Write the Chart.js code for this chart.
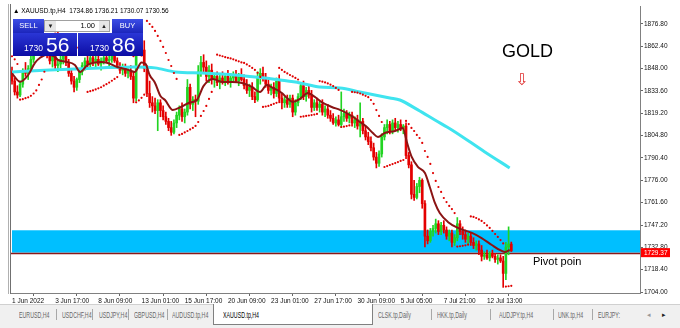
<!DOCTYPE html>
<html><head><meta charset="utf-8">
<script src="https://cdn.jsdelivr.net/npm/chart.js@4.4.1/dist/chart.umd.min.js"></script>
<style>
html,body{margin:0;padding:0;background:#fff;}
#wrap{position:relative;width:680px;height:328px;overflow:hidden;font-family:'Liberation Sans',Arial,sans-serif;}
canvas{position:absolute;left:0;top:0;}
.ov{position:absolute;white-space:nowrap;}
.btn{background:linear-gradient(#3c4ee6,#1c26bc);color:#fff;font-size:7.5px;text-align:center;line-height:14px;height:14px;top:19px;}
.big{background:linear-gradient(#2a36d6,#0c0ca4);top:33px;height:23px;}
.sm{position:absolute;color:#fff;font-size:8.5px;line-height:8.5px;top:11px;}
.lg{position:absolute;color:#fff;font-size:21px;line-height:21px;top:1px;}
.tab{position:absolute;top:310px;font-size:8.5px;line-height:10px;color:#666;transform:scaleX(0.62);transform-origin:0 0;}
.sep{position:absolute;top:309px;width:1px;height:11px;background:#a8a8a8;}
</style></head><body>
<div id="wrap">
<canvas id="c" width="680" height="328"></canvas>
<div class="ov" style="left:8px;top:4px;width:1px;height:290px;background:#b0b0b0"></div>
<div class="ov" style="left:10px;top:4px;width:1px;height:290px;background:#707070"></div>
<div class="ov" style="left:13px;top:7px;font-size:6.5px;color:#000">▲ XAUUSD.tp,H4&nbsp; 1734.86 1736.21 1730.07 1730.56</div>
<div class="ov btn" style="left:13px;width:31px">SELL</div>
<div class="ov" style="left:44px;top:20px;width:66px;height:12px;background:#fff;border:1px solid #a0a0a0;box-sizing:border-box"></div>
<div class="ov" style="left:45px;top:21px;width:11px;height:10px;background:#e6e6e6;font-size:6px;line-height:10px;text-align:center;color:#222">▼</div>
<div class="ov" style="left:78px;top:21px;width:17px;font-size:7.5px;line-height:10px;text-align:right;color:#000">1.00</div>
<div class="ov" style="left:99px;top:21px;width:10px;height:10px;background:#e6e6e6;font-size:6px;line-height:10px;text-align:center;color:#222">▲</div>
<div class="ov btn" style="left:112px;width:31px">BUY</div>
<div class="ov big" style="left:13px;width:64px"><span class="sm" style="left:11px">1730</span><span class="lg" style="left:33px">56</span></div>
<div class="ov big" style="left:78px;width:65px"><span class="sm" style="left:12px">1730</span><span class="lg" style="left:34px">86</span></div>
<div class="ov" style="left:502px;top:41px;font-size:18px;color:#000">GOLD</div>
<div class="ov" style="left:515px;top:70px;font-size:16px;color:#e03030;font-family:'DejaVu Sans'">⇩</div>
<div class="ov" style="left:533px;top:255px;font-size:11px;color:#000">Pivot poin</div>
<div class="ov" style="left:0;top:304px;width:680px;height:24px;background:#f0f0f0;border-top:1px solid #d0d0d0"></div>
<div class="ov" style="left:213px;top:304px;width:158px;height:20px;background:#fff;border:1px solid #808080;border-top:none"></div>
<span class="tab" style="left:19px">EURUSD,H4</span><span class="sep" style="left:56px"></span>
<span class="tab" style="left:62px">USDCHF,H4</span><span class="sep" style="left:92px"></span>
<span class="tab" style="left:99px">USDJPY,H4</span><span class="sep" style="left:128px"></span>
<span class="tab" style="left:134px">GBPUSD,H4</span><span class="sep" style="left:167px"></span>
<span class="tab" style="left:172px">AUDUSD.tp,H4</span>
<span class="tab" style="left:223px;color:#000">XAUUSD.tp,H4</span>
<span class="tab" style="left:378px">CLSK.tp,Daily</span><span class="sep" style="left:431px"></span>
<span class="tab" style="left:437px">HKK.tp,Daily</span><span class="sep" style="left:490px"></span>
<span class="tab" style="left:499px">AUDJPY.tp,H4</span><span class="sep" style="left:553px"></span>
<span class="tab" style="left:558px">UNK.tp,H4</span><span class="sep" style="left:592px"></span>
<span class="tab" style="left:598px">EURJPY: </span>
<span class="tab" style="left:647px;color:#999;transform:none;font-size:7px">◂</span><span class="tab" style="left:662px;color:#222;transform:none;font-size:7px">▸</span>
</div>
<script>
// ---- data ----
const xTickBars = [0,16,32,48,64,80,96,112,128,144,160,176];
const xTickLabels = ['1 Jun 2022','3 Jun 17:00','8 Jun 09:00','13 Jun 01:00','15 Jun 17:00','20 Jun 09:00','23 Jun 01:00','27 Jun 17:00','30 Jun 09:00','5 Jul 05:00','7 Jul 21:00','12 Jul 13:00'];
const yTickValues = [1704.00,1718.40,1732.80,1747.20,1761.60,1776.00,1790.40,1804.80,1819.20,1833.60,1848.00,1862.40,1876.80];

const opens = [1846,1840,1833,1831,1838,1846,1845,1848,1854,1860,1865,1868,1866,1862,1857,1853,1856,1850,1851,1854,
1856,1852,1845,1840,1836,1841,1846,1850,1853,1851,1855,1852,1854,1851,1853,1855,1853,1854,1856,1853,
1849,1847,1849,1845,1847,1843,1829,1865,1872,1860,1848,1832,1826,1824,1821,1826,1821,1817,1814,1810,
1807,1813,1818,1822,1817,1820,1836,1825,1828,1827,1846,1852,1849,1843,1847,1841,1843,1839,1842,1840,
1843,1839,1842,1844,1840,1843,1841,1837,1834,1836,1830,1828,1843,1845,1842,1838,1834,1836,1832,1840,
1829,1826,1828,1825,1829,1820,1826,1830,1837,1830,1834,1831,1823,1826,1823,1825,1820,1822,1818,1816,
1813,1815,1812,1817,1819,1816,1818,1813,1815,1811,1814,1808,1804,1801,1797,1791,1787,1793,1804,1810,
1812,1808,1813,1810,1812,1809,1811,1792,1786,1767,1765,1772,1776,1761,1740,1737,1743,1745,1748,1743,
1747,1744,1740,1742,1736,1739,1748,1743,1741,1738,1740,1736,1734,1735,1731,1727,1728,1726,1729,1727,
1725,1726,1724,1716,1733,1734.86];
const highs = [1849,1842,1837,1840,1848,1852,1850,1856,1862,1868,1871,1874,1870,1866,1861,1858,1858,1854,1856,1858,
1859,1854,1848,1843,1842,1847,1852,1855,1857,1856,1858,1856,1858,1855,1857,1858,1856,1858,1859,1855,
1852,1851,1851,1849,1850,1846,1868,1878,1875,1866,1850,1840,1830,1829,1828,1828,1824,1820,1816,1814,
1815,1820,1824,1826,1822,1841,1838,1830,1831,1850,1856,1857,1853,1850,1851,1845,1846,1844,1846,1845,
1847,1845,1846,1847,1845,1848,1844,1841,1838,1839,1833,1846,1848,1849,1845,1841,1838,1839,1842,1844,
1832,1830,1831,1831,1831,1828,1832,1839,1840,1836,1837,1834,1828,1829,1827,1828,1824,1825,1821,1819,
1817,1818,1833,1822,1821,1820,1820,1817,1818,1826,1816,1811,1807,1804,1800,1794,1795,1806,1812,1815,
1814,1815,1816,1814,1815,1812,1813,1794,1788,1776,1774,1778,1777,1763,1744,1745,1747,1751,1750,1749,
1750,1746,1744,1744,1741,1752,1750,1746,1744,1742,1742,1739,1737,1737,1734,1730,1731,1730,1731,1729,
1728,1728,1727,1736,1746,1736.21];
const lows = [1838,1831,1829,1830,1836,1843,1841,1846,1852,1857,1861,1864,1860,1855,1851,1849,1848,1846,1848,1851,
1850,1843,1838,1833,1834,1839,1844,1847,1849,1848,1850,1849,1850,1847,1851,1852,1849,1852,1852,1848,
1845,1844,1843,1842,1841,1826,1827,1862,1856,1846,1830,1823,1820,1819,1808,1817,1815,1812,1808,1805,
1806,1810,1815,1814,1813,1818,1822,1821,1817,1825,1843,1846,1840,1839,1838,1836,1837,1835,1838,1837,
1838,1836,1839,1839,1837,1840,1835,1832,1830,1828,1826,1827,1838,1840,1836,1832,1831,1829,1830,1826,
1822,1823,1823,1823,1817,1818,1824,1828,1828,1827,1829,1820,1821,1821,1820,1818,1817,1816,1814,1812,
1811,1811,1810,1814,1814,1813,1811,1810,1809,1804,1806,1802,1799,1795,1789,1784,1785,1791,1802,1806,
1806,1806,1808,1807,1808,1806,1790,1784,1764,1763,1764,1768,1758,1733,1735,1736,1740,1742,1741,1741,
1742,1738,1737,1733,1734,1737,1741,1738,1736,1735,1734,1732,1731,1728,1724,1725,1725,1724,1726,1723,
1722,1723,1707,1712,1728,1730.07];
const closes = [1840,1833,1831,1838,1846,1845,1848,1854,1860,1865,1868,1866,1862,1857,1853,1856,1850,1851,1854,1856,
1852,1845,1840,1836,1841,1846,1850,1853,1851,1855,1852,1854,1851,1853,1855,1853,1854,1856,1853,1849,
1847,1849,1845,1847,1843,1829,1865,1872,1860,1848,1832,1826,1824,1821,1826,1821,1817,1814,1810,1807,
1813,1818,1822,1817,1820,1836,1825,1828,1827,1846,1852,1849,1843,1847,1841,1843,1839,1842,1840,1843,
1839,1842,1844,1840,1843,1841,1837,1834,1836,1830,1828,1843,1845,1842,1838,1834,1836,1832,1840,1829,
1826,1828,1825,1829,1820,1826,1830,1837,1830,1834,1831,1823,1826,1823,1825,1820,1822,1818,1816,1813,
1815,1812,1817,1819,1816,1818,1813,1815,1811,1814,1808,1804,1801,1797,1791,1787,1793,1804,1810,1812,
1808,1813,1810,1812,1809,1811,1792,1786,1767,1765,1772,1776,1761,1740,1737,1743,1745,1748,1743,1747,
1744,1740,1742,1736,1739,1748,1743,1741,1738,1740,1736,1734,1735,1731,1727,1728,1726,1729,1727,1725,
1726,1724,1716,1733,1735,1730.56];

// parabolic SAR dot per bar
const sarVals = [1856,1854,1851,
1828.0,1828.3,1829.0,1829.5,1830.5,1832.0,1834.0,1837.5,1841.0,1846.0,
1874.0,1873.5,1873.0,1872.0,1871.0,1870.0,1869.0,1868.0,1866.5,1865.0,1863.0,1861.5,1860.0,1858.5,1857.0,
1833.0,1833.5,1834.0,1834.6,1835.3,1836.0,1837.0,1838.0,1839.0,1840.2,1841.4,1842.6,
1859.0,1858.5,1858.0,1857.4,1856.8,1856.0,
1826.3,1827.5,1829.2,1831.2,
1878.8,1876.8,1874.9,1872.3,1869.1,1865.9,1862.0,1858.1,1853.6,1849.7,1845.2,1841.4,
1805.3,1805.9,1806.9,1807.8,1808.8,1809.8,1811.1,1813.6,1817.5,1820.7,1824.0,1828.5,1833.0,
null,1857.0,1856.5,1856.0,1855.4,1855.0,1854.6,1854.0,1853.3,1852.7,1852.0,1851.7,1850.7,1849.7,1848.5,1847.2,1845.3,1842.7,
1823.3,1823.6,1824.0,1824.6,1825.3,1826.0,
1848.5,1847.2,1845.9,1844.9,1843.9,1843.0,1842.0,1841.0,
1817.0,1817.2,1817.5,1817.8,1818.1,1818.4,1818.8,
1840.0,1839.6,1839.1,1838.5,1837.7,1836.8,1835.6,1834.3,
1810.4,1810.6,1811.0,1811.4,
1833.0,1832.8,1832.5,1832.0,1831.2,1830.5,1829.6,1827.8,1825.3,1821.3,1817.5,1813.6,
1784.6,1785.2,1785.9,1786.5,1787.1,1787.8,1788.5,1789.1,
1814.3,1812.3,1809.8,1807.8,1805.3,1803.3,1800.1,1794.9,1791.1,1786.6,1780.7,1775.6,1771.7,1768.5,1764.6,1762.0,1759.5,1757.5,1754.9,
1733.3,1733.5,1733.8,1734.1,1734.5,
1752.7,1752.4,1751.7,1750.8,1749.8,1748.5,1746.9,1745.3,1743.4,1741.4,1739.5,1737.5,1735.3,
1707.5,1707.7,1708.0];

// short moving average (dark red), read at sample bars
const maBars = [0,3,6,8.5,10.4,13,16,17,20,23.3,25.2,28,33,35.5,39,43,45.5,48,49.5,51,53,55,56.7,59.6,62.6,65.5,68.5,71,74.4,77.8,81.5,85.2,88.9,91.9,94.4,96.7,100,101.9,104,106.7,109.6,112.2,115.2,118.5,121.5,124,127,128.9,131.5,133.7,135.6,138.1,141.9,144.8,146.3,148.1,150.4,153,154.8,156.7,158.5,161.5,165.2,170.4,174,177.8,180.7,182.6,184.4];
const maVals = [1845,1839.5,1843.9,1851.7,1855,1857,1855.5,1853.6,1852.5,1850.4,1845.9,1850.4,1852.3,1851.7,1849.1,1847.2,1845.9,1852,1851,1843.9,1838.8,1830.4,1827.8,1821.4,1823.3,1825.9,1827.8,1836.9,1841.4,1839.4,1839.4,1838.8,1836.2,1833.0,1837.5,1835.6,1832.3,1829.1,1826.5,1828.5,1832.3,1829.8,1825.9,1823.3,1821.4,1819.4,1816.2,1813.6,1810.4,1806.5,1804.0,1806.5,1807.8,1809.8,1800.7,1791.1,1784.6,1780.7,1771.7,1761.4,1754.9,1749.2,1745.3,1742.1,1738.8,1734.3,1731.1,1729.8,1731.1];

// long moving average (cyan), read at sample bars
const longMaBars = [0,14,32.6,45.5,53,60.4,70.4,77.8,86.3,93.7,99.3,106.7,114,121.5,128.9,140,143.7,150.4,156.7,163,175.2,184.4];
const longMaVals = [1845.9,1847.2,1848.5,1849.1,1848.5,1845.9,1845.2,1844.6,1843.3,1842.0,1840.7,1838.8,1836.2,1835.6,1833.0,1829.1,1827.8,1821.4,1814.9,1808.5,1794.3,1784.0];

// objects on the chart
const zoneTop = 1743.8, zoneBottom = 1729.37, zoneStartBar = 0;
const pivotLevel = 1729.37;

// ---- chart ----
const BULL = '#22d422', BEAR = '#e40000';
const candleColor = ctx => closes[ctx.dataIndex] >= opens[ctx.dataIndex] ? BULL : BEAR;
const wickData = highs.map((h,i)=>({x:i, y:[lows[i], h]}));
const bodyData = opens.map((o,i)=>({x:i, y:[o, closes[i]]}));
const sarData = sarVals.map((v,i)=> v==null ? null : ({x:i, y:v})).filter(p=>p);
const maData = maBars.map((b,i)=>({x:b, y:maVals[i]}));
const longMaData = longMaBars.map((b,i)=>({x:b, y:longMaVals[i]}));

const objPlugin = {
  id:'objects',
  beforeDatasetsDraw(chart){
    const {ctx, chartArea:a, scales:{x,y}} = chart;
    const yt = y.getPixelForValue(zoneTop), yb = y.getPixelForValue(zoneBottom);
    const xl = x.getPixelForValue(zoneStartBar);
    ctx.save();
    ctx.fillStyle = '#00bfff';
    ctx.fillRect(xl, yt, a.right - xl, yb - yt);
    const yp = Math.round(y.getPixelForValue(pivotLevel)) + 0.5;
    ctx.strokeStyle = '#8b1a1a'; ctx.lineWidth = 1.5;
    ctx.beginPath(); ctx.moveTo(a.left, yp); ctx.lineTo(a.right, yp); ctx.stroke();
    ctx.restore();
  },
  afterDraw(chart){
    const {ctx, chartArea:a, scales:{y}} = chart;
    const yp = y.getPixelForValue(pivotLevel);
    ctx.save();
    ctx.fillStyle = '#ff0000';
    ctx.fillRect(a.right + 1, yp - 4.5, 29, 9);
    ctx.fillStyle = '#fff';
    ctx.font = '6.5px "Liberation Sans"';
    ctx.textBaseline = 'middle';
    ctx.fillText(pivotLevel.toFixed(2), a.right + 4, yp + 0.5);
    ctx.restore();
  }
};

new Chart(document.getElementById('c'), {
  type:'bar',
  data:{ datasets:[
    {type:'bar', data:wickData, barThickness:1, backgroundColor:candleColor, borderWidth:0, grouped:false, order:5},
    {type:'bar', data:bodyData, barThickness:2, backgroundColor:candleColor, borderWidth:0, grouped:false, order:4},
    {type:'line', data:longMaData, borderColor:'#3fe4ef', borderWidth:3, pointRadius:0, cubicInterpolationMode:'monotone', order:3},
    {type:'line', data:maData, borderColor:'#8b1414', borderWidth:2, pointRadius:0, cubicInterpolationMode:'monotone', order:2},
    {type:'line', data:sarData, showLine:false, pointRadius:1.1, pointBackgroundColor:'#e00000', pointBorderWidth:0, order:1}
  ]},
  options:{
    responsive:false, animation:false, devicePixelRatio:1, events:[],
    layout:{padding:{left:11, top:6, right:0, bottom:0}},
    plugins:{legend:{display:false}, tooltip:{enabled:false}},
    scales:{
      x:{type:'linear', min:-0.37, max:232.69, offset:false,
         afterBuildTicks:s=>{ s.ticks = xTickBars.map(v=>({value:v})); },
         afterFit:s=>{ s.height = 35; },
         ticks:{autoSkip:false, maxRotation:0, align:'start', padding:1, color:'#111',
                font:{family:'Liberation Sans', size:6.5},
                callback:(v,i)=>xTickLabels[i]},
         grid:{drawOnChartArea:false, drawTicks:true, tickLength:3, color:'#666'},
         border:{display:true, color:'#808080'}},
      y:{type:'linear', position:'right', min:1703.36, max:1888.4,
         afterBuildTicks:s=>{ s.ticks = yTickValues.map(v=>({value:v})); },
         afterFit:s=>{ s.width = 40; },
         ticks:{padding:1, color:'#111', font:{family:'Liberation Sans', size:6.5},
                callback:v=>Number(v).toFixed(2)},
         grid:{drawOnChartArea:false, drawTicks:true, tickLength:3, color:'#666'},
         border:{display:true, color:'#808080'}}
    }
  },
  plugins:[objPlugin]
});
</script>
</body></html>
